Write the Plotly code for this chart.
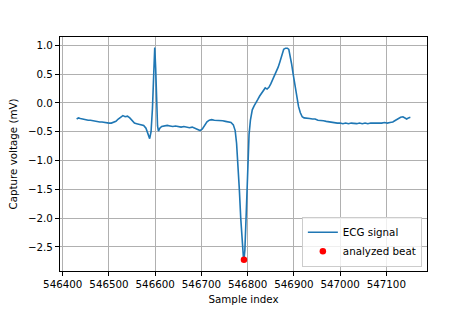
import plotly.graph_objects as go

sample_index = [
    546430, 546434, 546438, 546442, 546446, 546450, 546455, 546460, 546465, 546470,
    546475, 546480, 546485, 546490, 546495, 546500, 546505, 546510, 546515, 546520,
    546525, 546530, 546535, 546540, 546545, 546550, 546555, 546560, 546565, 546570,
    546575, 546580, 546584, 546588, 546591, 546594, 546597, 546599, 546601, 546603,
    546605, 546607, 546610, 546614, 546620, 546626, 546632, 546638, 546644, 546650,
    546656, 546662, 546668, 546674, 546680, 546686, 546692, 546697, 546702, 546707,
    546712, 546717, 546722, 546728, 546734, 546740, 546746, 546752, 546758, 546764,
    546769, 546773, 546776, 546779, 546782, 546785, 546788, 546791, 546792, 546794,
    546797, 546800, 546803, 546806, 546810, 546814, 546818, 546822, 546826, 546830,
    546834, 546838, 546842, 546846, 546850, 546854, 546858, 546862, 546866, 546870,
    546874, 546878, 546882, 546886, 546889, 546892, 546895, 546898, 546901, 546904,
    546907, 546910, 546914, 546918, 546922, 546928, 546934, 546940, 546946, 546952,
    546958, 546964, 546970, 546976, 546982, 546988, 546994, 547000, 547006, 547012,
    547018, 547024, 547030, 547036, 547042, 547048, 547054, 547060, 547066, 547072,
    547078, 547084, 547090, 547096, 547102, 547108, 547114, 547120, 547126, 547131,
    547136, 547140, 547144, 547148, 547152,
]

ecg_mv = [
    -0.28, -0.26, -0.27, -0.28, -0.28, -0.29, -0.30, -0.30, -0.31, -0.32,
    -0.32, -0.33, -0.33, -0.34, -0.35, -0.35, -0.35, -0.34, -0.32, -0.28,
    -0.25, -0.22, -0.24, -0.23, -0.26, -0.31, -0.35, -0.36, -0.37, -0.37,
    -0.39, -0.44, -0.52, -0.62, -0.50, -0.10, 0.55, 0.96, 0.60, 0.05,
    -0.40, -0.49, -0.44, -0.41, -0.40, -0.39, -0.40, -0.41, -0.40, -0.41,
    -0.42, -0.41, -0.42, -0.43, -0.42, -0.44, -0.46, -0.48, -0.45, -0.39,
    -0.33, -0.30, -0.29, -0.30, -0.30, -0.31, -0.31, -0.32, -0.33, -0.34,
    -0.38, -0.48, -0.70, -1.05, -1.50, -2.00, -2.45, -2.70, -2.72, -2.55,
    -1.90, -1.10, -0.55, -0.30, -0.12, -0.05, 0.02, 0.06, 0.12, 0.16,
    0.20, 0.26, 0.24, 0.27, 0.33, 0.40, 0.47, 0.54, 0.62, 0.72,
    0.84, 0.93, 0.95, 0.95, 0.93, 0.82, 0.68, 0.52, 0.38, 0.22,
    0.08, -0.06, -0.17, -0.24, -0.26, -0.26, -0.27, -0.28, -0.28, -0.30,
    -0.30, -0.31, -0.32, -0.33, -0.33, -0.34, -0.35, -0.35, -0.36, -0.35,
    -0.36, -0.35, -0.36, -0.36, -0.35, -0.36, -0.35, -0.36, -0.35, -0.35,
    -0.35, -0.36, -0.35, -0.34, -0.35, -0.34, -0.33, -0.30, -0.27, -0.25,
    -0.24, -0.26, -0.28, -0.26, -0.25,
]

beat_index = [546792]
beat_mv = [-2.72]

font = dict(family="DejaVu Sans", size=10.3, color="black")

fig = go.Figure()
fig.add_trace(go.Scatter(
    x=sample_index, y=ecg_mv, mode="lines", name="ECG signal",
    line=dict(color="#1f77b4", width=1.6),
))
fig.add_trace(go.Scatter(
    x=beat_index, y=beat_mv, mode="markers", name="analyzed beat",
    marker=dict(color="red", size=6.5),
))

axis_common = dict(
    showline=True, linecolor="black", linewidth=1, mirror=True,
    ticks="outside", ticklen=4, tickwidth=0.8, tickcolor="black",
    showgrid=True, gridcolor="#b0b0b0", gridwidth=0.8,
    zeroline=False, tickfont=font,
)

fig.update_layout(
    width=474, height=316,
    margin=dict(l=60, r=47, t=37, b=39),
    paper_bgcolor="white", plot_bgcolor="white",
    font=font,
    showlegend=True,
    legend=dict(
        x=0.986, y=0.018, xanchor="right", yanchor="bottom",
        bgcolor="rgba(255,255,255,0.8)", bordercolor="#cccccc", borderwidth=1,
        font=font, itemwidth=30, tracegroupgap=0,
    ),
    xaxis=dict(
        range=[546394, 547188], dtick=100, tick0=546400, tickformat="d",
        title=dict(text="Sample index", font=font, standoff=6),
        **axis_common,
    ),
    yaxis=dict(
        range=[-2.917, 1.144], dtick=0.5, tick0=0, tickformat=".1f",
        title=dict(text="Capture voltage (mV)", font=font, standoff=8),
        **axis_common,
    ),
)

fig.write_html("out.html")
